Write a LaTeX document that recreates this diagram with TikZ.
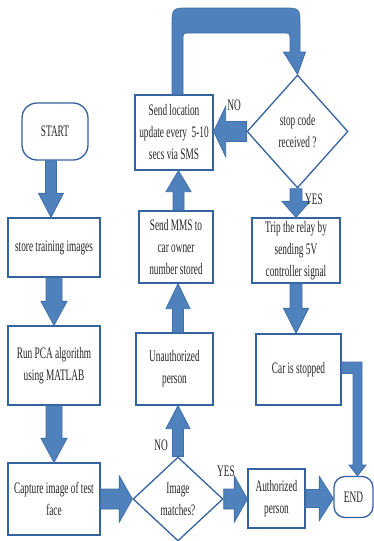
\documentclass[tikz,border=0pt]{standalone}
\usepackage{fontspec}
\setmainfont[FakeStretch=0.58]{Liberation Serif}
\usetikzlibrary{calc,shapes.geometric}
\definecolor{arrfill}{HTML}{4F81BD}
\definecolor{arrline}{HTML}{3F6FA8}
\definecolor{boxline}{HTML}{3563A0}
\newcommand\barrow[5]{%
 \coordinate (ba-s) at (#1);
 \coordinate (ba-e) at (#2);
 \coordinate (ba-h) at ($(ba-e)!#5!(ba-s)$);
 \filldraw[arr] ($(ba-s)!#3!90:(ba-e)$) -- ($(ba-h)!#3!90:(ba-e)$) -- ($(ba-h)!#4!90:(ba-e)$) -- (ba-e) -- ($(ba-h)!#4!-90:(ba-e)$) -- ($(ba-h)!#3!-90:(ba-e)$) -- ($(ba-s)!#3!-90:(ba-e)$) -- cycle;}
\tikzset{
 box/.style={draw=boxline, line width=1.3pt, fill=white, align=center, inner sep=0pt,
   font=\fontsize{16}{22}\selectfont, text=black!85},
 term/.style={box, rounded corners=15pt},
 dec/.style={box, diamond},
 arr/.style={fill=arrfill, draw=arrline, line width=0.8pt, line join=miter},
 lbl/.style={font=\fontsize{16}{22}\selectfont, inner sep=0pt, text=black!85}
}
\begin{document}
\begin{tikzpicture}[x=1pt,y=-1pt]
\useasboundingbox (0,0) rectangle (374,541);
% nodes
\node[term, minimum width=66pt, minimum height=57pt] (start) at (55,131.5) {START};
\node[box, minimum width=92pt, minimum height=59pt] (store) at (54,247.5) {store training images};
\node[box, minimum width=92pt, minimum height=79pt] (pca) at (54,365.5) {Run PCA algorithm\\using MATLAB};
\node[box, minimum width=92pt, minimum height=72pt] (capture) at (54,499) {Capture image of test\\face};
\node[dec, minimum width=90pt, minimum height=84pt] (imgm) at (178,499) {Image\\matches?};
\node[box, minimum width=57pt, minimum height=59pt] (auth) at (276.5,498.5) {Authorized\\person};
\node[term, rounded corners=11pt, minimum width=39pt, minimum height=41pt] (end) at (353.5,497) {END};
\node[box, minimum width=77pt, minimum height=72pt] (unauth) at (174.5,369) {Unauthorized\\person};
\node[box, minimum width=74pt, minimum height=72pt] (mms) at (176,247) {Send MMS to\\car owner\\number stored};
\node[box, minimum width=78pt, minimum height=75pt] (loc) at (174,132.5) {Send location\\update every\ \ 5-10\\secs via SMS};
\node[dec, minimum width=101pt, minimum height=113pt] (stop) at (297.5,131.5) {stop code\\received ?};
\node[box, minimum width=88pt, minimum height=65pt] (trip) at (296,250.5) {Trip the relay by\\sending 5V\\controller signal};
\node[box, minimum width=85pt, minimum height=71pt] (car) at (298.5,369.5) {Car is stopped};
% arrows
\barrow{$(start.south)+(-4,0)$}{$(start.south |- store.north)+(-4,0)$}{5.5pt}{12.5pt}{24pt}
\barrow{store.south}{pca.north}{8pt}{13pt}{24pt}
\barrow{pca.south}{capture.north}{8pt}{13pt}{24pt}
\barrow{capture.east}{imgm.west}{10pt}{23pt}{13pt}
\barrow{imgm.east}{imgm.east -| auth.west}{10pt}{23pt}{13pt}
\barrow{auth.east}{auth.east -| end.west}{9pt}{22pt}{14pt}
\barrow{imgm.north}{imgm.north |- unauth.south}{5.5pt}{12pt}{23pt}
\barrow{$(unauth.north)+(3.5,0)$}{$(unauth.north |- mms.south)+(3.5,0)$}{5.5pt}{12pt}{25pt}
\barrow{$(mms.north)+(2.5,0)$}{$(mms.north |- loc.south)+(2.5,0)$}{5.5pt}{12.5pt}{21pt}
\barrow{stop.west}{stop.west -| loc.east}{10pt}{25pt}{12pt}
\barrow{$(stop.south)+(-1.5,0)$}{$(stop.south |- trip.north)+(-1.5,0)$}{6pt}{14pt}{16pt}
\barrow{trip.south}{trip.south |- car.north}{6pt}{12.5pt}{25pt}
% bent arrow car -> end
\filldraw[arr] ($(car.east)+(0,-7.5)$) -- (362,362) -- (362,465) -- (366,465)
  -- ($(end.north)+(4,0)$) -- (349,465) -- (353,465) -- (353,373.5) -- ($(car.east)+(0,4)$) -- cycle;
% loop arrow loc -> stop
\filldraw[arr] ($(loc.north)+(-2,0)$) -- (172,26) .. controls (172,8) .. (190,8) -- (282,8)
  .. controls (300,8) .. (300,26) -- (300,52) -- (305.5,52) -- (stop.north) -- (283.5,52)
  -- (290,52) -- (290,40) .. controls (290,33) .. (283,33) -- (190,33)
  .. controls (183,33) .. (183,40) -- ($(loc.north)+(9,0)$) -- cycle;
% labels
\node[lbl] (l1) at (234,105) {NO};
\node[lbl] (l2) at (314,199) {YES};
\node[lbl] (l3) at (161,445) {NO};
\node[lbl] (l4) at (226,471) {YES};
\end{tikzpicture}
\end{document}
